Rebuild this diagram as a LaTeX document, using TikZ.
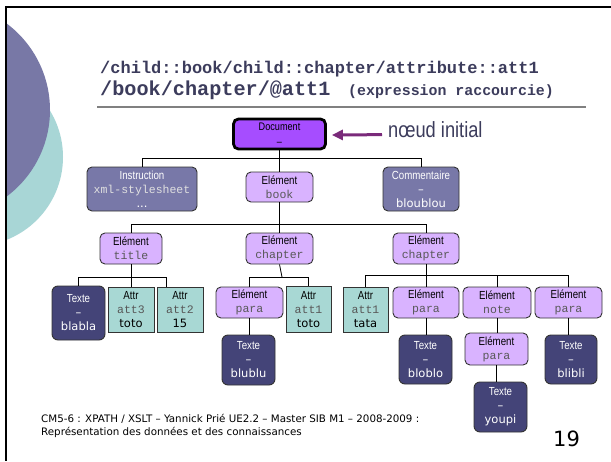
\documentclass[tikz,border=0pt]{standalone}
\usepackage{fontspec}
\setmainfont{DejaVu Sans}
\newfontfamily\narrowsans[FakeStretch=0.83]{Liberation Sans}
\newfontfamily\codefont{Liberation Mono}
\newfontfamily\plainsans{DejaVu Sans}
\usetikzlibrary{arrows.meta}

\definecolor{docfill}{HTML}{A64DFF}
\definecolor{elemfill}{HTML}{D9B3FF}
\definecolor{instrfill}{HTML}{7878A8}
\definecolor{textfill}{HTML}{444478}
\definecolor{attrfill}{HTML}{A8D8D4}
\definecolor{arrowcol}{HTML}{7A2A7A}
\definecolor{titlecol}{HTML}{3C3C5C}
\definecolor{circA}{HTML}{7878A6}
\definecolor{circB}{HTML}{A8D6D6}
\definecolor{edgegray}{HTML}{333333}
\definecolor{codegray}{HTML}{585858}
\definecolor{rulegray}{HTML}{808080}

% text helpers used inside the tree boxes
\newcommand{\lab}[1]{{\narrowsans\fontsize{11.7}{14}\selectfont #1}}
\newcommand{\code}[1]{{\codefont\fontsize{11.5}{14}\selectfont #1}}
\newcommand{\val}[1]{{\plainsans\fontsize{11.5}{14}\selectfont #1}}

\tikzset{
  x=1pt, y=-1pt,
  treebox/.style={draw=edgegray, line width=0.9pt, inner sep=0pt, align=center,
    font=\fontsize{11}{14}\selectfont},
  elem/.style={treebox, rounded corners=5pt, fill=elemfill, text=black},
  instr/.style={treebox, rounded corners=5pt, fill=instrfill, text=white},
  textnode/.style={treebox, rounded corners=6pt, fill=textfill, text=white},
  attr/.style={treebox, fill=attrfill, text=black},
  docnode/.style={draw=black, line width=2.8pt, rounded corners=5pt, fill=docfill,
    inner sep=0pt, align=center, font=\fontsize{11}{15}\selectfont},
  edge/.style={draw=black, line width=0.8pt},
  pointer/.style={draw=arrowcol, line width=3pt, -{Triangle[length=11pt,width=10pt]}},
}

\begin{document}
\begin{tikzpicture}
\useasboundingbox (0,0) rectangle (611,461);
\fill[white] (0,0) rectangle (611,461);

% decorative discs on the left edge
\begin{scope}
  \clip (6,0) rectangle (611,461);
  \fill[circB] (-26,157) circle (89);
  \fill[circA] (-58,110) circle (108);
\end{scope}
% slide frame
\draw[black, line width=2.5pt] (5,7) -- (611,7);
\draw[black, line width=2.5pt] (6,6) -- (6,461);

% heading
\node[anchor=base west, inner sep=0pt, text=titlecol, font=\codefont\bfseries\fontsize{17}{20}\selectfont]
  (head1) at (100,73) {/child::book/child::chapter/attribute::att1};
\node[anchor=base west, inner sep=0pt, text=titlecol, font=\codefont\bfseries\fontsize{20.2}{24}\selectfont]
  (head2) at (100,95.5) {/book/chapter/@att1};
\node[anchor=base west, inner sep=0pt, text=titlecol, font=\codefont\bfseries\fontsize{14.9}{18}\selectfont]
  (head3) at (348,95.5) {(expression raccourcie)};
\draw[rulegray, line width=1.5pt] (97,107) -- (586,107);

% tree nodes
\node[docnode, minimum width=92pt, minimum height=30pt] (doc) at (279.5,134)
  {{\narrowsans Document}\\{\narrowsans –}};

\node[instr, minimum width=110pt, minimum height=44pt] (instr) at (142,189)
  {\lab{Instruction}\\\textcolor{black!12}{\code{xml-stylesheet}}\\\val{...}};
\node[elem, minimum width=67pt, minimum height=30pt] (book) at (279.5,187)
  {\lab{Elément}\\\textcolor{codegray}{\code{book}}};
\node[instr, minimum width=76pt, minimum height=44pt] (comm) at (421,189)
  {\lab{Commentaire}\\\val{–}\\\val{bloublou}};

\node[elem, minimum width=62pt, minimum height=31pt] (title) at (131,248.5)
  {\lab{Elément}\\\textcolor{codegray}{\code{title}}};
\node[elem, minimum width=67pt, minimum height=31pt] (chapA) at (279.5,248.5)
  {\lab{Elément}\\\textcolor{codegray}{\code{chapter}}};
\node[elem, minimum width=66pt, minimum height=31pt] (chapB) at (426,248.5)
  {\lab{Elément}\\\textcolor{codegray}{\code{chapter}}};

\node[textnode, minimum width=53pt, minimum height=54pt] (blabla) at (78.5,313)
  {\lab{Texte}\\\val{–}\\\val{blabla}};
\node[attr, minimum width=46pt, minimum height=45pt] (attC) at (131,309.5)
  {\lab{Attr}\\\textcolor{codegray}{\code{att3}}\\\val{toto}};
\node[attr, minimum width=46pt, minimum height=45pt] (attB) at (180,309.5)
  {\lab{Attr}\\\textcolor{codegray}{\code{att2}}\\\val{15}};

\node[elem, minimum width=67pt, minimum height=31pt] (paraA) at (249.5,302.5)
  {\lab{Elément}\\\textcolor{codegray}{\code{para}}};
\node[attr, minimum width=45pt, minimum height=46pt] (attA) at (308.5,309.5)
  {\lab{Attr}\\\textcolor{codegray}{\code{att1}}\\\val{toto}};
\node[textnode, minimum width=53pt, minimum height=50pt] (blublu) at (248.5,360)
  {\lab{Texte}\\\val{–}\\\val{blublu}};

\node[attr, minimum width=45pt, minimum height=45pt] (attD) at (365.5,309.5)
  {\lab{Attr}\\\textcolor{codegray}{\code{att1}}\\\val{tata}};
\node[elem, minimum width=66pt, minimum height=31pt] (paraB) at (426,302.5)
  {\lab{Elément}\\\textcolor{codegray}{\code{para}}};
\node[elem, minimum width=68pt, minimum height=31pt] (note) at (497,302.5)
  {\lab{Elément}\\\textcolor{codegray}{\code{note}}};
\node[elem, minimum width=67pt, minimum height=31pt] (paraD) at (568.5,302.5)
  {\lab{Elément}\\\textcolor{codegray}{\code{para}}};

\node[textnode, minimum width=53pt, minimum height=49pt] (bloblo) at (425.5,359.5)
  {\lab{Texte}\\\val{–}\\\val{bloblo}};
\node[elem, minimum width=63pt, minimum height=32pt] (paraC) at (496.5,349)
  {\lab{Elément}\\\textcolor{codegray}{\code{para}}};
\node[textnode, minimum width=53pt, minimum height=50pt] (youpi) at (500.5,407)
  {\lab{Texte}\\\val{–}\\\val{youpi}};
\node[textnode, minimum width=52pt, minimum height=49pt] (blibli) at (571,359.5)
  {\lab{Texte}\\\val{–}\\\val{blibli}};

% bus levels of the tree
\coordinate (busDoc) at (0,158);
\coordinate (busBook) at (0,224);
\coordinate (busTitle) at (0,277);
\coordinate (busChapA) at (0,277);
\coordinate (busChapB) at (0,275);

% connectors
\draw[edge] (doc.south) -- (book.north);
\draw[edge] (doc.south |- busDoc) -| (instr.north);
\draw[edge] (doc.south |- busDoc) -| (comm.north);

\draw[edge] (book.south) -- (chapA.north);
\draw[edge] (book.south |- busBook) -| (title.north);
\draw[edge] (book.south |- busBook) -| (chapB.north);

\draw[edge] (title.south) -- (attC.north);
\draw[edge] (title.south |- busTitle) -| (blabla.north);
\draw[edge] (title.south |- busTitle) -| ([xshift=10pt]attB.north west);

\draw[edge] (chapA.south) -- ([xshift=2.5pt]chapA.south |- busChapA);
\draw[edge] ([xshift=2.5pt]chapA.south |- busChapA) -| (paraA.north);
\draw[edge] ([xshift=2.5pt]chapA.south |- busChapA) -| (attA.north);
\draw[edge] (paraA.south) -- (paraA.south |- blublu.north);

\draw[edge] (chapB.south) -- (paraB.north);
\draw[edge] (chapB.south |- busChapB) -| (attD.north);
\draw[edge] (chapB.south |- busChapB) -| (note.north);
\draw[edge] (chapB.south |- busChapB) -| (paraD.north);
\draw[edge] (paraB.south) -- (paraB.south |- bloblo.north);
\draw[edge] (note.south) -- (note.south |- paraC.north);
\draw[edge] (paraC.south) -- (paraC.south |- youpi.north);
\draw[edge] (paraD.south) -- (paraD.south |- blibli.north);

% pointer to the start node
\node[anchor=base west, inner sep=0pt, text=titlecol,
  font=\narrowsans\fontsize{22}{24}\selectfont] (initlab) at (388,137.5) {nœud initial};
\draw[pointer] ([xshift=-6pt,yshift=-5pt]initlab.west) -- ([xshift=5pt,yshift=-1pt]doc.east);

% footer
\node[anchor=base west, inner sep=0pt, align=left,
  font=\plainsans\fontsize{10.3}{13}\selectfont] (foot) at (41,435)
  {CM5-6 : XPATH / XSLT – Yannick Prié UE2.2 – Master SIB M1 – 2008-2009 :\\Représentation des données et des connaissances};
\node[anchor=base west, inner sep=0pt, font=\plainsans\fontsize{21}{24}\selectfont] (pagenum) at (553,446.5) {19};
\end{tikzpicture}
\end{document}
